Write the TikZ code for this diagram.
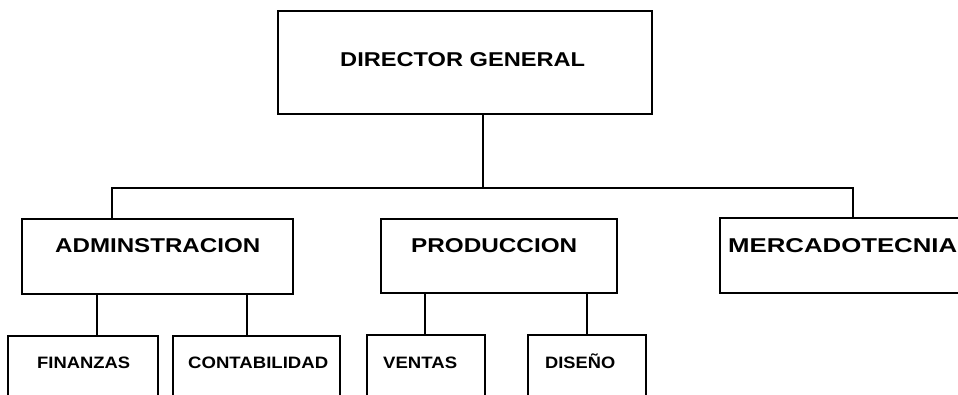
\documentclass[tikz,border=0pt]{standalone}
\usepackage{fontspec}
\setmainfont{Liberation Sans}
\newcommand{\bigtxt}[2]{\resizebox{#2pt}{\height}{\fontsize{20}{24}\selectfont\bfseries #1}}
\newcommand{\smtxt}[2]{\resizebox{#2pt}{\height}{\fontsize{16.5}{20}\selectfont\bfseries #1}}
\begin{document}
\begin{tikzpicture}[x=1pt,y=-1pt,
  box/.style={draw=black,line width=1.6pt,rectangle,inner sep=0pt,anchor=north west},
  lbl/.style={anchor=base west,inner sep=0pt},
  link/.style={draw=black,line width=1.6pt}]
\useasboundingbox (0,0) rectangle (958,394);
\clip (0,0) rectangle (958,394);
% boxes
\node[box,minimum width=374pt,minimum height=103pt] (dg) at (277,10) {};
\node[box,minimum width=271pt,minimum height=75pt] (adm) at (21,218) {};
\node[box,minimum width=236pt,minimum height=74pt] (prod) at (380,218) {};
\node[box,minimum width=260pt,minimum height=75pt] (merc) at (719,217) {};
\node[box,minimum width=150pt,minimum height=80pt] (fin) at (7,335) {};
\node[box,minimum width=167pt,minimum height=80pt] (cont) at (172,335) {};
\node[box,minimum width=118pt,minimum height=80pt] (vent) at (366,334) {};
\node[box,minimum width=118pt,minimum height=80pt] (dis) at (527,334) {};
% labels
\node[lbl] (dgt) at (340,66) {\bigtxt{DIRECTOR GENERAL}{245}};
\node[lbl] (admt) at (55,252) {\bigtxt{ADMINSTRACION}{205}};
\node[lbl] (prodt) at (411,252) {\bigtxt{PRODUCCION}{166}};
\node[lbl] (merct) at (728,252) {\bigtxt{MERCADOTECNIA}{229}};
\node[lbl] (fint) at (37,368) {\smtxt{FINANZAS}{93}};
\node[lbl] (contt) at (188,368) {\smtxt{CONTABILIDAD}{140}};
\node[lbl] (ventt) at (383,368) {\smtxt{VENTAS}{74}};
\node[lbl] (dist) at (545,368) {\smtxt{DISEÑO}{70}};
% connector coordinates
\coordinate (bx) at (483,188);
\coordinate (bl) at (112,188);
\coordinate (br) at (853,188);
\coordinate (c1) at (97,0);
\coordinate (c2) at (247,0);
\coordinate (c3) at (425,0);
\coordinate (c4) at (587,0);
% connectors
\draw[link] (dg.south -| bx) -- (bx);
\draw[link] (adm.north -| bl) -- (bl) -- (br) -- (merc.north -| br);
\draw[link] (adm.south -| c1) -- (fin.north -| c1);
\draw[link] (adm.south -| c2) -- (cont.north -| c2);
\draw[link] (prod.south -| c3) -- (vent.north -| c3);
\draw[link] (prod.south -| c4) -- (dis.north -| c4);
\end{tikzpicture}
\end{document}
